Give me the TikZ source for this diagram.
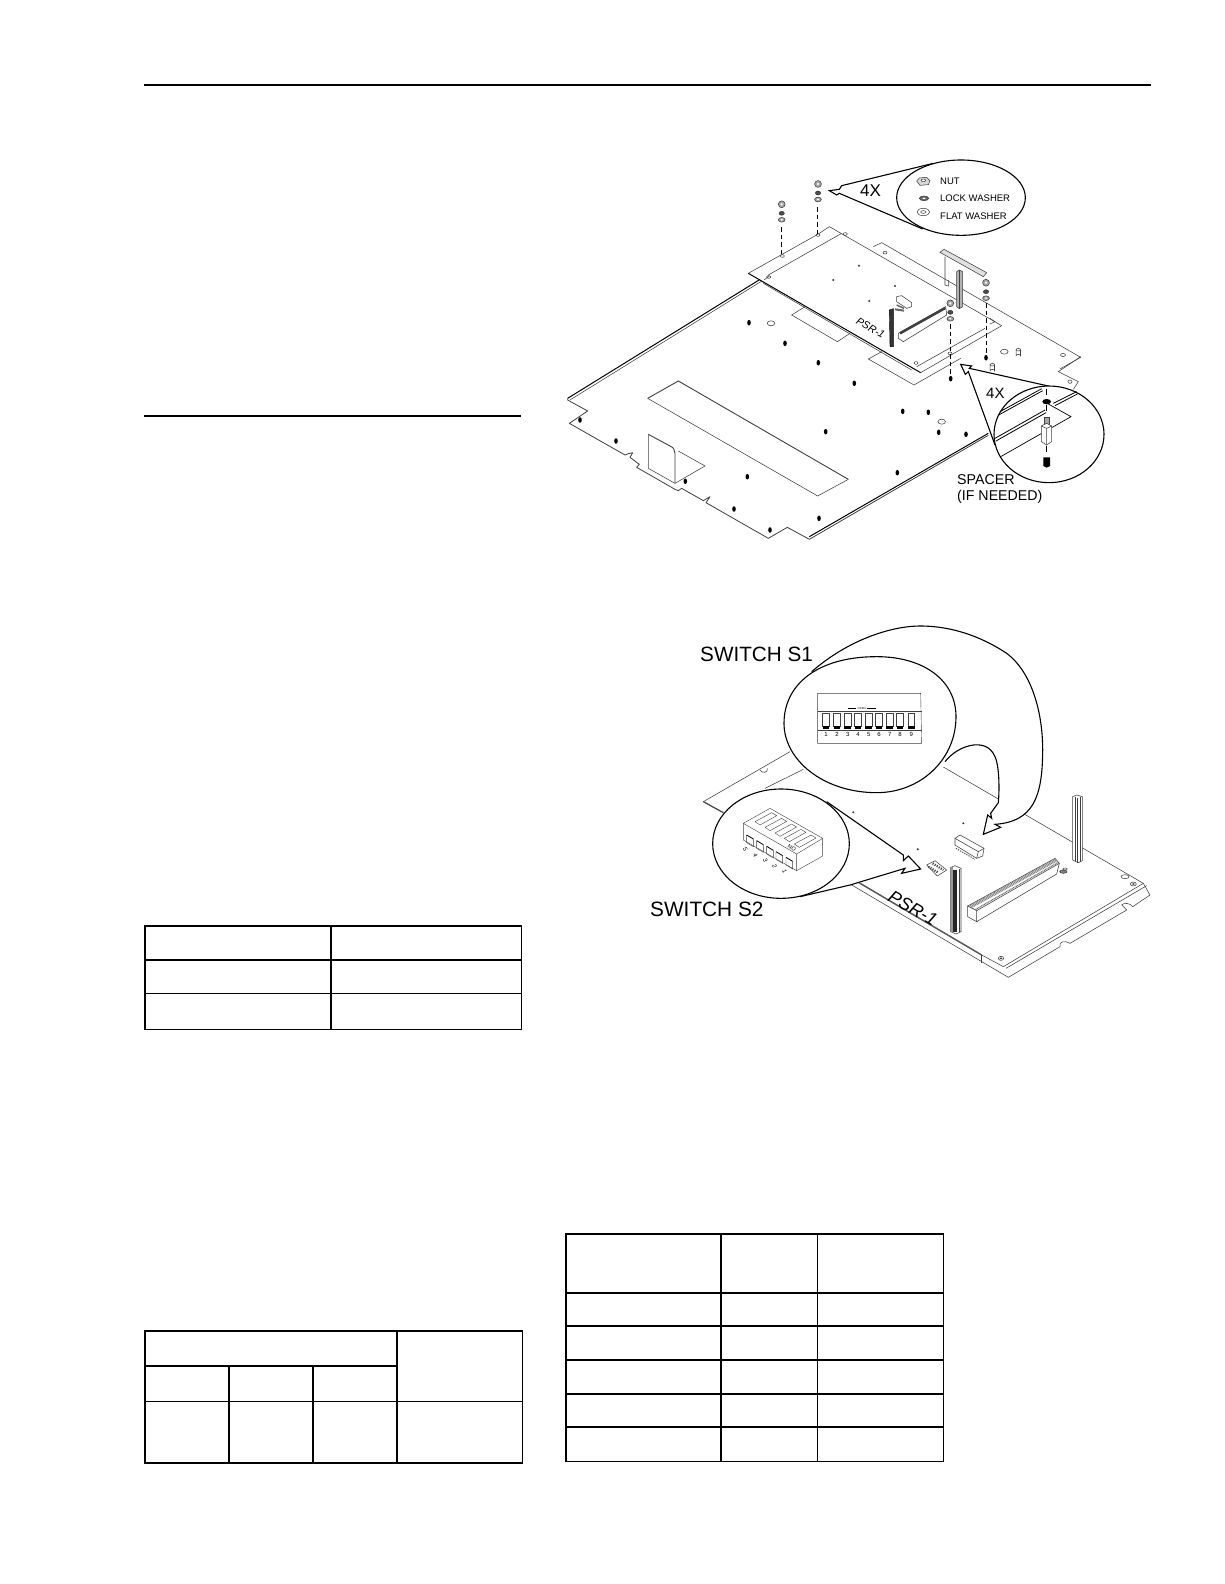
\documentclass[tikz,border=0pt]{standalone}
\usepackage{fontspec}
\setmainfont{Liberation Sans}
\newcommand\nutstack[2]{%
  \draw[hw,fill=black!35] (#1,#2) circle [radius=3.4];
  \fill[white] (#1,#2) circle [radius=1.2];
  \draw[hw,fill=black!70] (#1,#2+9) ellipse [x radius=2.6, y radius=2];
  \draw[hw,fill=black!35] (#1,#2+15.5) ellipse [x radius=3.4, y radius=2.3];
  \fill[white] (#1,#2+15.5) ellipse [x radius=1.2, y radius=.8];
}
\newcommand\hole[2]{\fill (#1,#2) ellipse [x radius=1.8, y radius=2.8];}
\newcommand\dotm[2]{\fill[black!80] (#1,#2) circle [radius=1.1];}
\newcommand\ring[2]{\draw[fine] (#1,#2) ellipse [x radius=3.8, y radius=2.5];}
\newcommand\standoff[2]{\draw[fine] (#1-2.2,#2-3) -- (#1-2.2,#2+3) arc[start angle=180,end angle=360,x radius=2.2,y radius=1.3] -- (#1+2.2,#2-3); \draw[fine] (#1,#2-3) ellipse [x radius=2.2, y radius=1.3];}
\tikzset{
  rulebar/.style={line width=2pt,black},
  tab/.style={line width=2pt,black,line cap=rect},
  tabthin/.style={line width=1pt,black,line cap=rect},
  fine/.style={line width=.55pt,draw=black!75},
  edge/.style={line width=1pt,black},
  hw/.style={line width=.5pt,draw=black!80},
  dashline/.style={line width=1pt,black,dash pattern=on 4.5pt off 3pt},
  callout/.style={line width=1.1pt,black,fill=white},
  zm/.style={shift={(#1)},scale=1/3},
  lab/.style={inner sep=0pt,anchor=west,align=left},
}
\begin{document}
\begin{tikzpicture}[x=1pt,y=-1pt]
\useasboundingbox (0,0) rectangle (1224,1584);
\fill[white] (0,0) rectangle (1224,1584);
% page rules
\draw[rulebar] (144,84.7) -- (1151,84.7);
\draw[rulebar] (144,415.7) -- (521,415.7);
% table 1
\draw[tab] (145,1029.3) -- (145,925.7) -- (520.7,925.7);
\draw[tab] (145,960) -- (520.7,960) (331,925.7) -- (331,1029.3);
\draw[tabthin] (145,993.3) -- (521.7,993.3) (145,1029.3) -- (521.7,1029.3) (521.7,925.7) -- (521.7,1029.3);
% table 2
\draw[tab] (145,1462.7) -- (145,1330.7) -- (521.7,1330.7);
\draw[tab] (145,1462.7) -- (521.7,1462.7);
\draw[tab] (145,1365.7) -- (397,1365.7) (397,1330.7) -- (397,1462.7) (229,1365.7) -- (229,1462.7) (313,1365.7) -- (313,1462.7);
\draw[tabthin] (145,1401) -- (522.7,1401) (522.7,1330.7) -- (522.7,1462.7);
% table 3
\draw[tab] (565.7,1461.3) -- (565.7,1234) -- (942.7,1234);
\draw[tab] (565.7,1292.7) -- (942.7,1292.7) (565.7,1325.7) -- (942.7,1325.7) (565.7,1359.7) -- (942.7,1359.7) (565.7,1393.7) -- (942.7,1393.7) (565.7,1427) -- (942.7,1427) (720.7,1234) -- (720.7,1461.3);
\draw[tabthin] (565.7,1461.3) -- (943.7,1461.3) (817.3,1234) -- (817.3,1461.3) (943.7,1234) -- (943.7,1461.3);

% ---------- FIGURE 1: base plate
\begin{scope}[zm={550,340}]
\draw[fine,line width=.8pt,line join=round] (53,175) -- (53,180) -- (113,213) -- (58,250) -- (225,345) -- (235,341) -- (248,338) -- (240,352) -- (268,373) -- (260,382) -- (375,448) -- (385,452) -- (395,445) -- (460,482) -- (480,470) -- (468,488) -- (655,595) -- (712,562) -- (778,598) -- (1315,286);
\draw[edge] (53,175) -- (645,-191);
\draw[fine] (60,180) -- (650,-186);
\draw[edge] (778,590) -- (1315,280);
% large rectangle
\draw[fine] (293,175) -- (803,468) -- (895,418);
\draw[fine,line width=.9pt] (293,175) -- (385,123) -- (895,418);
% bracket
\draw[fine] (385,333) -- (465,378) -- (375,430) -- (295,385) -- (295,283);
\draw[fine,line width=.9pt] (295,283) -- (360,318) .. controls (370,322) and (375,330) .. (375,340) -- (375,430);
\end{scope}
% rectangles under board
\begin{scope}[zm={550,150}]
\draw[fine] (765,470) -- (725,495) -- (862,575) -- (900,550);
\end{scope}
\begin{scope}[zm={840,340}]
\draw[fine] (125,35) -- (85,57) -- (222,135) -- (362,55);
\end{scope}
% back part of the plate
\begin{scope}[zm={800,150}]
\draw[fine] (220,290) -- (245,278) -- (842,622) -- (780,657);
\draw[hw] (255,308) ellipse [x radius=6, y radius=4];
\end{scope}
\begin{scope}[zm={840,340}]
\draw[fine] (722,50) -- (655,95) -- (715,125) -- (700,148);
\draw[hw] (690,125) ellipse [x radius=6, y radius=5];
\end{scope}
% holes and rings on plate
\hole{580}{420}\hole{616}{441}\hole{685.3}{481.3}\hole{747.3}{476.7}\hole{734}{509}\hole{770}{530}
\hole{819}{518.3}\hole{825.7}{431.7}\hole{818.3}{362.7}\hole{785}{343.3}\hole{749}{322.7}
\hole{854.3}{383.3}\hole{902.7}{411.3}\hole{928.3}{412.3}\hole{938.7}{432.3}\hole{966}{434.3}\hole{897.3}{472.7}
\hole{950.7}{378.7}\hole{986}{357.7}
\ring{771}{323.3}\ring{941.7}{421.7}\ring{1004.3}{351.7}
\standoff{1018.3}{352.7}\standoff{992.3}{367.7}
\draw[hw] (1063,355) ellipse [x radius=2.5, y radius=1.5];
% PSR-1 board
\begin{scope}[zm={550,150}]
\fill[white] (595,370) -- (838,230) -- (1355,527) -- (1112,668) -- cycle;
\draw[fine] (595,370) -- (805,252);
\draw[fine] (655,375) -- (875,250);
\draw[fine] (805,252) -- (838,230) -- (1355,527);
\draw[edge] (595,370) -- (1112,668);
\draw[fine] (642,390) -- (658,378);
\draw[fine] (640,400) -- (1085,660);
\draw[fine] (1112,668) -- (1355,527);
\draw[fine] (1100,650) -- (1305,535);
\foreach \p in {(656,381),(697,318),(804,255),(886,252),(1098,639),(1200,610)} \draw[hw] \p ellipse [x radius=6, y radius=4];
\end{scope}
\dotm{833.3}{280}\dotm{859}{265.7}\dotm{895}{286}\dotm{869.3}{301}
\begin{scope}[zm={800,150}]
% bracket on board
\draw[fine] (435,320) -- (435,405) -- (445,408) -- (445,390);
\draw[fine,fill=black!12] (420,307) -- (432,298) -- (560,368) -- (550,380) -- cycle;
% post
\draw[fine,fill=black!30] (470,365) -- (478,360) -- (488,365) -- (488,470) -- (478,476) -- (470,470) -- cycle;
\draw[fine] (478,360) -- (478,476);
% connector
\draw[fine,fill=white] (295,550) -- (437,470) -- (440,495) -- (310,575) -- (295,565) -- cycle;
\draw[line width=2.5pt,black!75] (300,550) -- (436,474);
% dark post
\draw[black,fill=black!80] (268,480) -- (280,476) -- (280,590) -- (270,590) -- cycle;
% relay
\draw[fine,fill=white] (290,440) -- (305,437) -- (335,458) -- (335,470) -- (320,475) -- (290,455) -- cycle;
\draw[line width=2pt,black!60] (285,478) -- (312,482);
\draw[line width=1.5pt,black!60] (290,465) -- (312,475);
\draw[fine] (570,505) -- (585,515) -- (570,522);
\end{scope}
\node[rotate=-30,inner sep=0pt,font=\fontsize{10.5}{10.5}\selectfont\itshape] (psrtop) at (870.5,328) {PSR-1};
% hardware stacks + dashed lines
\nutstack{781.7}{204.3}\nutstack{818}{184}\nutstack{986}{282.7}\nutstack{950.3}{303.3}
\coordinate (d1a) at (781.7,227); \coordinate (d1b) at (781.7,256);
\coordinate (d2a) at (817.5,207); \coordinate (d2b) at (817.5,235);
\coordinate (d3a) at (986,303); \coordinate (d3b) at (986,356);
\coordinate (d4a) at (950.5,324); \coordinate (d4b) at (950.5,376);
\draw[dashline] (d1a) -- (d1b);
\draw[dashline] (d2a) -- (d2b);
\draw[dashline] (d3a) -- (d3b);
\draw[dashline] (d4a) -- (d4b);
% callout top
\begin{scope}[zm={800,150}]
\draw[callout,line join=miter] (400,40) -- (125,107) -- (118,118) -- (88,122) -- (110,135) -- (118,130) -- (368,237);
\draw[callout] (483,143) ellipse [x radius=193, y radius=113];
\draw[hw,fill=black!15] (350,93) -- (358,84) -- (380,82) -- (390,92) -- (385,104) -- (360,106) -- cycle;
\draw[hw,fill=white] (370,91) ellipse [x radius=7, y radius=4];
\draw[hw,fill=black!60] (372,145) ellipse [x radius=14, y radius=7];
\fill[white] (372,145) ellipse [x radius=5, y radius=2.5];
\draw[hw,fill=white] (370,186) ellipse [x radius=19, y radius=11];
\draw[hw] (370,186) ellipse [x radius=8, y radius=4];
\end{scope}
\node[lab,font=\fontsize{9.5}{9.5}\selectfont] (nut) at (940,181.5) {NUT};
\node[lab,font=\fontsize{9.5}{9.5}\selectfont] (lock) at (940,198.5) {LOCK WASHER};
\node[lab,font=\fontsize{9.5}{9.5}\selectfont] (flat) at (940,216) {FLAT WASHER};
\node[lab,font=\fontsize{17}{17}\selectfont] (fourxa) at (860,191) {4X};
% callout bottom
\begin{scope}[zm={840,340}]
\fill[white] (362,73) -- (625,138) -- (465,315) -- cycle;
\draw[callout,fill=none] (625,138) -- (388,85) -- (395,78) -- (362,73) -- (376,103) -- (385,95) -- (465,315);
\draw[callout] (627,283) ellipse [x radius=165, y radius=145];
\draw[line width=.8pt] (480,215) -- (605,146) (476,225) -- (608,152);
\draw[line width=.8pt] (640,190) -- (710,155) (645,197) -- (712,162);
\draw[line width=.8pt] (465,295) -- (615,210) (468,303) -- (618,218);
\draw[line width=.7pt] (482,350) -- (693,230) -- (625,192);
\draw[line width=.9pt,dash pattern=on 6pt off 4pt] (620,148) -- (620,178);
\fill (620,185) ellipse [x radius=13, y radius=8];
\draw[line width=.9pt,dash pattern=on 6pt off 4pt] (620,195) -- (620,225);
\draw[fine,fill=black!35] (613,232) rectangle (627,255);
\draw[fine,fill=white] (604,258) -- (620,250) -- (635,258) -- (635,305) -- (620,315) -- (604,305) -- cycle;
\draw[fine] (620,265) -- (620,315) (604,258) -- (620,265) -- (635,258);
\draw[line width=.9pt,dash pattern=on 6pt off 4pt] (620,318) -- (620,345);
\fill (610,352) -- (630,352) -- (630,378) -- (620,383) -- (610,378) -- cycle;
\end{scope}
\node[lab,font=\fontsize{15}{15}\selectfont] (fourxb) at (986,393) {4X};
\node[lab,font=\fontsize{14.2}{14.2}\selectfont] (spacer) at (957,480) {SPACER};
\node[lab,font=\fontsize{14.2}{14.2}\selectfont] (needed) at (957,496.5) {(IF NEEDED)};

% ---------- FIGURE 2: PSR-1 board
\begin{scope}[zm={880,770}]
% outline
\draw[fine,line width=1.2pt] (-530,95) -- (-470,128);
\draw[fine] (190,-9) -- (790,340);
\draw[line width=1.5pt,black!65] (-75,331) -- (305,555);
\draw[fine] (305,555) -- (370,590);
\draw[fine] (-100,336) -- (385,622) -- (540,530) .. controls (535,515) and (555,510) .. (570,520) -- (740,420) -- (725,405) .. controls (730,398) and (750,398) .. (758,410) -- (810,375) -- (790,340);
\draw[fine] (305,555) -- (305,578);
\draw[fine] (370,590) -- (790,340) (378,595) -- (800,347);
% holes
\draw[hw] (363,565) ellipse [x radius=8, y radius=6];
\draw[hw] (363,565) ellipse [x radius=3, y radius=2];
\draw[hw] (760,342) ellipse [x radius=9, y radius=6];
\draw[hw] (760,342) ellipse [x radius=3, y radius=2];
\draw[hw] (735,320) ellipse [x radius=12, y radius=6];
\draw[hw,fill=black!50] (550,305) ellipse [x radius=11, y radius=5];
\draw[hw] (555,297) ellipse [x radius=7, y radius=3];
% connector
\draw[fine,fill=white] (263,408) -- (525,265) -- (538,280) -- (290,422) -- cycle;
\draw[fine,fill=white] (263,408) -- (290,422) -- (290,455) -- (263,440) -- cycle;
\draw[fine] (290,455) -- (530,312) (538,280) -- (530,312);
\draw[line width=3.5pt,black!50,dash pattern=on .9pt off .7pt] (272,410) -- (528,270);
\draw[line width=1.2pt,black!60,dash pattern=on .9pt off .7pt] (287,418) -- (535,277);
% posts
\draw[fine,fill=white] (578,80) -- (590,75) -- (607,80) -- (607,272) -- (595,278) -- (578,270) -- cycle;
\draw[fine] (585,82) -- (585,272) (592,85) -- (592,278) (600,82) -- (600,275);
\draw[fine,fill=white] (212,292) -- (225,287) -- (243,295) -- (243,485) -- (228,492) -- (212,485) -- cycle;
\fill[black!85] (220,300) rectangle (230,485);
\fill[black!40] (214,292) rectangle (218,485);
\draw[fine] (237,297) -- (237,485);
% relay
\draw[fine,fill=white] (225,205) -- (240,195) -- (312,235) -- (308,258) -- (290,265) -- (225,225) -- cycle;
\draw[fine] (225,205) -- (295,245) -- (312,235) (295,245) -- (290,265);
\draw[line width=1pt,black!70,dash pattern=on 1.2pt off 1.2pt] (228,235) -- (285,268);
% S2 small
\draw[fine,fill=white] (140,285) -- (165,272) -- (200,300) -- (172,318) -- cycle;
\draw[line width=2.2pt,black!70,dash pattern=on 1.2pt off 1.2pt] (145,290) -- (175,308);
\draw[line width=2.2pt,black!70,dash pattern=on 1.2pt off 1.2pt] (158,280) -- (190,300);
\end{scope}
\dotm{963.3}{823.3}\dotm{917.7}{849.3}\dotm{853.3}{812.3}
\begin{scope}[zm={680,610}]
\draw[fine] (70,575) -- (330,425);
\draw[fine] (240,480) .. controls (245,490) and (265,490) .. (262,475);
\draw[fine] (255,535) -- (370,478);
% swoosh
\draw[callout,line join=miter] (395,185) .. controls (510,85) and (640,48) .. (720,48) .. controls (830,48) and (920,90) .. (980,130) .. controls (1060,190) and (1090,320) .. (1088,430) .. controls (1086,560) and (1060,635) .. (945,643) -- (962,652) -- (910,673) -- (923,615) -- (935,625) -- (932,610) -- (955,578) .. controls (960,520) and (955,460) .. (945,440) .. controls (930,405) and (900,403) .. (880,405) .. controls (845,410) and (815,430) .. (795,455);
\draw[callout] (312,340) .. controls (312,225) and (410,140) .. (590,140) .. controls (730,140) and (828,210) .. (828,320) .. controls (828,450) and (720,548) .. (590,548) .. controls (430,548) and (312,450) .. (312,340) -- cycle;
% switch S1
\draw[fine,line width=.4pt] (413,250) -- (722,250) -- (725,400) -- (413,400) -- cycle;
\draw[fine,line width=.4pt] (413,305) -- (725,305) (413,360) -- (725,360);
\foreach \x/\n in {438/1,471/2,503/3,534/4,566/5,597/6,629/7,660/8,694/9} {
  \draw[fine,line width=.4pt] (\x-10,310) rectangle (\x+10,350);
  \fill (\x-10,348) rectangle (\x+10,358);
  \node[inner sep=0pt,font=\fontsize{6}{6}\selectfont] (sone\n) at (\x,373) {\n};
}
\node[inner sep=0pt,font=\fontsize{2.8}{2.8}\selectfont] (open) at (545,295) {OPEN};
\draw[line width=.3pt] (505,295) -- (528,295) (562,295) -- (588,295);
\end{scope}
\node[lab,font=\fontsize{20.7}{20.7}\selectfont] (sa) at (700,654) {SWITCH S1};
\begin{scope}[zm={640,770}]
\fill[white] (560,95) -- (842,297) -- (480,380) -- cycle;
\draw[callout,fill=none] (560,95) -- (790,255) -- (790,272) -- (805,258) -- (842,297) -- (785,310) -- (795,295) -- (630,345) -- (480,380);
\draw[callout] (423,221) ellipse [x radius=205, y radius=164];
% switch S2
\draw[fine,line width=.4pt] (310,160) -- (390,115) -- (548,205) -- (470,252) -- cycle;
\draw[fine,line width=.4pt] (310,160) -- (310,210) -- (470,302) -- (470,252);
\draw[fine,line width=.4pt] (548,205) -- (548,258) -- (470,302);
\foreach \dx/\dy/\n in {0/0/5,30/17/4,60/34/3,88/50/2,118/67/1} {
  \draw[fine,line width=.4pt] (345+\dx,155+\dy) -- (395+\dx,128+\dy) -- (410+\dx,137+\dy) -- (360+\dx,165+\dy) -- cycle;
  \draw[fine,line width=.4pt] (320+\dx,195+\dy) -- (320+\dx,218+\dy) -- (340+\dx,230+\dy) -- (340+\dx,207+\dy);
  \draw[line width=.8pt] (320+\dx,195+\dy) -- (340+\dx,207+\dy);
  \node[inner sep=0pt,rotate=-70,font=\fontsize{6}{6}\selectfont] (stwo\n) at (316+\dx,238+\dy) {\n};
}
\node[inner sep=0pt,rotate=-30,font=\fontsize{5.5}{5.5}\selectfont] (no) at (456,233) {NO};
\end{scope}
\node[lab,font=\fontsize{20.8}{20.8}\selectfont] (sb) at (650,909.5) {SWITCH S2};
\node[inner sep=0pt,rotate=-30,font=\fontsize{18}{18}\selectfont\itshape] (psr) at (913,908) {PSR-1};
\end{tikzpicture}
\end{document}
